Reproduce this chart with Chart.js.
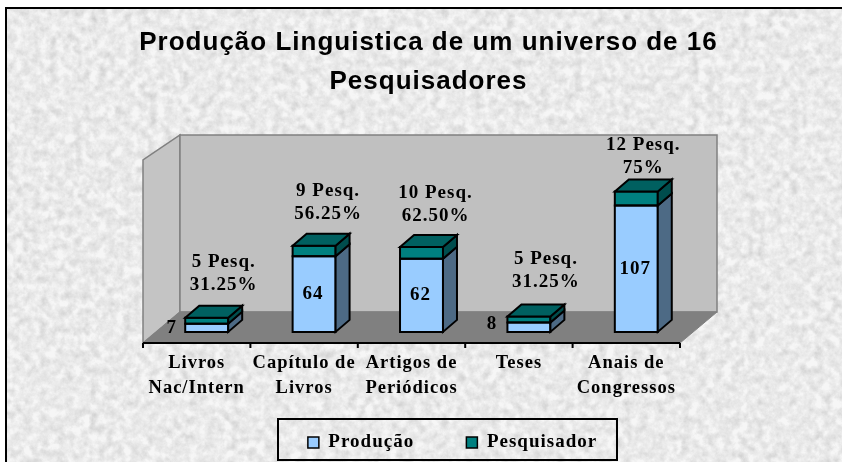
<!doctype html>
<html>
<head>
<title>Produção Linguistica</title>
<script src="https://cdn.jsdelivr.net/npm/chart.js"></script>
<style>
  html, body { margin: 0; padding: 0; background: #fff; overflow: hidden; }
  #frame { position: absolute; left: 5px; top: 7px; width: 850px; height: 470px; border: 2px solid #000; box-sizing: border-box;
    background-color: #ececec;
    background-image: url("data:image/svg+xml,%3Csvg xmlns='http://www.w3.org/2000/svg' width='842' height='462'%3E%3Cfilter id='n' x='0' y='0' width='100%25' height='100%25'%3E%3CfeTurbulence type='fractalNoise' baseFrequency='0.12' numOctaves='4' seed='7'/%3E%3CfeColorMatrix values='0 0 0 0 0.45 0 0 0 0 0.45 0 0 0 0 0.45 0.6 0.6 0 0 -0.42'/%3E%3C/filter%3E%3Crect width='842' height='462' fill='%23f6f6f6'/%3E%3Crect width='842' height='462' filter='url(%23n)'/%3E%3C/svg%3E"); }
  #wrap { position: absolute; left: 15px; top: 0; width: 827px; height: 462px; }
</style>
</head>
<body>
<div id="frame"></div>
<div id="wrap"><canvas id="chart" width="827" height="462"></canvas></div>
<script>
const categories = [['Livros', 'Nac/Intern'], ['Capítulo de', 'Livros'], ['Artigos de', 'Periódicos'], 'Teses', ['Anais de', 'Congressos']];
const producao = [7, 64, 62, 8, 107];
const pesquisador = [5, 9, 10, 5, 12];
const pesqLabels = ['5 Pesq.', '9 Pesq.', '10 Pesq.', '5 Pesq.', '12 Pesq.'];
const pctLabels = ['31.25%', '56.25%', '62.50%', '31.25%', '75%'];

const DEPTH_X = 14, DEPTH_Y = 12;    // bar extrusion
const FLOOR_LEFT = 10, FLOOR_X = 37, FLOOR_Y = 31;
const serif = '"Liberation Serif", serif';
const frontFont = 'bold 19px ' + serif;

// shifts of the hand placed labels, relative to the bar
const valueShift = [[-35, 0], null, null, [-37, -3], null];
const noteShift = [[17, -56], [14, -55], [14, -54], [17, -57], [7, -46]];

function poly(ctx, pts, fill, stroke, lw) {
  ctx.beginPath();
  pts.forEach((p, i) => i ? ctx.lineTo(p[0], p[1]) : ctx.moveTo(p[0], p[1]));
  ctx.closePath();
  if (fill) { ctx.fillStyle = fill; ctx.fill(); }
  if (stroke) { ctx.strokeStyle = stroke; ctx.lineWidth = lw; ctx.stroke(); }
}

const box3d = {
  id: 'box3d',
  afterLayout(chart) {
    // title spans the whole canvas, legend sits right of centre
    chart.titleBlock.left = 0;
    chart.titleBlock.right = chart.width;
    chart.legend.left += 18;
    chart.legend.right += 18;
  },
  beforeDraw(chart) { chart.ctx.letterSpacing = '1px'; },
  beforeDatasetsDraw(chart) {
    const { ctx, chartArea: a } = chart;
    const L = a.left - FLOOR_LEFT, R = a.right - FLOOR_LEFT, B = a.bottom;
    ctx.save();
    poly(ctx, [[L, B], [L + FLOOR_X, B - FLOOR_Y], [L + FLOOR_X, a.top], [L, a.top + 25]], '#c4c4c4', '#808080', 1.5);
    poly(ctx, [[L + FLOOR_X, a.top], [R + FLOOR_X, a.top], [R + FLOOR_X, B - FLOOR_Y], [L + FLOOR_X, B - FLOOR_Y]], '#c0c0c0', '#808080', 1.5);
    poly(ctx, [[L, B], [R, B], [R + FLOOR_X, B - FLOOR_Y], [L + FLOOR_X, B - FLOOR_Y]], '#808080', '#808080', 1);
    // axis line and tick marks
    ctx.strokeStyle = '#000';
    ctx.lineWidth = 2;
    ctx.beginPath();
    ctx.moveTo(L, B); ctx.lineTo(R, B);
    const step = (R - L) / categories.length;
    for (let i = 0; i <= categories.length; i++) {
      ctx.moveTo(L + i * step, B); ctx.lineTo(L + i * step, B + 5);
    }
    ctx.stroke();
    ctx.restore();
  },
  afterDatasetsDraw(chart) {
    const { ctx } = chart;
    const sides = ['#4d6a85', '#004d4d'], tops = [null, '#006060'];
    ctx.save();
    chart.data.datasets.forEach((ds, d) => {
      chart.getDatasetMeta(d).data.forEach(bar => {
        const hw = bar.width / 2, l = bar.x - hw, r = bar.x + hw, t = bar.y, b = bar.base;
        poly(ctx, [[l, t], [r, t], [r, b], [l, b]], null, '#000', 2);
        poly(ctx, [[r, t], [r + DEPTH_X, t - DEPTH_Y], [r + DEPTH_X, b - DEPTH_Y], [r, b]], sides[d], '#000', 2);
        if (tops[d]) poly(ctx, [[l, t], [l + DEPTH_X, t - DEPTH_Y], [r + DEPTH_X, t - DEPTH_Y], [r, t]], tops[d], '#000', 2);
      });
    });
    ctx.fillStyle = '#000';
    ctx.font = frontFont;
    ctx.textAlign = 'center';
    ctx.textBaseline = 'middle';
    chart.getDatasetMeta(0).data.forEach((bar, i) => {
      const s = valueShift[i] || [-1, 0];
      ctx.fillText(producao[i], bar.x + s[0], (bar.y + bar.base) / 2 + s[1]);
    });
    chart.getDatasetMeta(1).data.forEach((bar, i) => {
      const s = noteShift[i];
      ctx.fillText(pesqLabels[i], bar.x + s[0], bar.y + s[1]);
      ctx.fillText(pctLabels[i], bar.x + s[0], bar.y + s[1] + 23);
    });
    ctx.restore();
  },
  afterDraw(chart) {
    const ctx = chart.ctx;
    ctx.save();
    ctx.strokeStyle = '#000';
    ctx.lineWidth = 2;
    ctx.strokeRect(263, 419, 339, 41);
    ctx.restore();
  }
};

new Chart(document.getElementById('chart'), {
  type: 'bar',
  plugins: [box3d],
  data: {
    labels: categories,
    datasets: [
      { label: 'Produção', data: producao, backgroundColor: '#99ccff', borderColor: '#000', borderWidth: 0, stack: 's' },
      { label: 'Pesquisador', data: pesquisador, backgroundColor: '#008080', borderColor: '#000', borderWidth: 0, stack: 's' }
    ]
  },
  options: {
    responsive: false,
    animation: false,
    layout: { padding: { left: 138, right: 152, top: 0, bottom: 0 } },
    barPercentage: 0.4,
    categoryPercentage: 1,
    scales: {
      x: {
        stacked: true,
        grid: { display: false, drawTicks: false },
        border: { display: false },
        ticks: { color: '#000', font: { family: serif, size: 18.5, weight: 'bold', lineHeight: 1.33 }, labelOffset: -10, maxRotation: 0, padding: 8, autoSkip: false },
        afterFit(scale) { scale.height = 78; }
      },
      y: { stacked: true, display: false, min: -9.4, max: 166.8 }
    },
    plugins: {
      title: {
        display: true,
        text: ['Produção Linguistica de um universo de 16', 'Pesquisadores'],
        color: '#000',
        font: { family: '"Liberation Sans", Arial, sans-serif', size: 26, weight: 'bold', lineHeight: 1.5 },
        padding: { top: 23, bottom: 34 }
      },
      legend: {
        position: 'bottom',
        labels: {
          color: '#000', font: { family: serif, size: 19, weight: 'bold' }, boxWidth: 11, boxHeight: 11, padding: 12,
          generateLabels(chart) {
            const items = Chart.defaults.plugins.legend.labels.generateLabels(chart);
            items.forEach(it => { it.lineWidth = 1.5; it.strokeStyle = '#000'; });
            items[0].text += '\u00a0'.repeat(7);   // wider gap between the two entries
            return items;
          }
        }
      },
      tooltip: { enabled: false }
    }
  }
});
</script>
</body>
</html>
